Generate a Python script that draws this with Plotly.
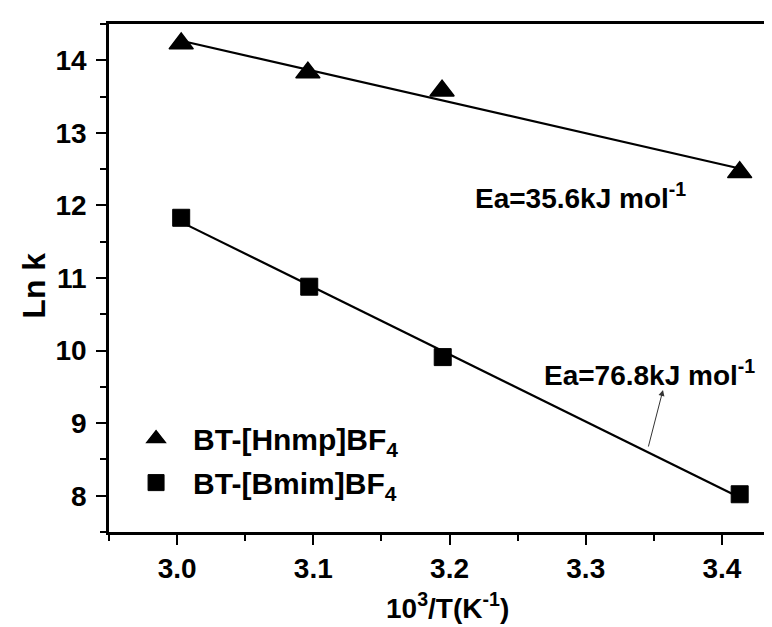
import numpy as np
import plotly.graph_objects as go

# ---- data ----
x_hnmp = [3.003, 3.096, 3.1945, 3.413]
y_hnmp = [14.23, 13.83, 13.58, 12.456]
x_bmim = [3.003, 3.097, 3.195, 3.413]
y_bmim = [11.83, 10.88, 9.91, 8.02]

name_hnmp = "BT-[Hnmp]BF<sub>4</sub>"
name_bmim = "BT-[Bmim]BF<sub>4</sub>"
label_hnmp = "Ea=35.6kJ mol<sup>-1</sup>"
label_bmim = "Ea=76.8kJ mol<sup>-1</sup>"

x_ticks = [3.0, 3.1, 3.2, 3.3, 3.4]
x_ticklabels = ["3.0", "3.1", "3.2", "3.3", "3.4"]
y_ticks = [8, 9, 10, 11, 12, 13, 14]

FONT = "Liberation Sans, Arial, sans-serif"

def fit_line(xs, ys):
    k, b = np.polyfit(xs, ys, 1)
    xx = np.array([min(xs), max(xs)])
    return xx, k * xx + b

fig = go.Figure()

fx, fy = fit_line(x_hnmp, y_hnmp)
fig.add_trace(go.Scatter(x=fx, y=fy, mode="lines", line=dict(color="black", width=2.2),
                         showlegend=False, hoverinfo="skip"))
fx2, fy2 = fit_line(x_bmim, y_bmim)
fig.add_trace(go.Scatter(x=fx2, y=fy2, mode="lines", line=dict(color="black", width=2.2),
                         showlegend=False, hoverinfo="skip"))

fig.add_trace(go.Scatter(x=x_hnmp, y=y_hnmp, mode="markers", name=name_hnmp,
                         legendgroup="a",
                         marker=dict(symbol="triangle-up", size=21, color="black",
                                     line=dict(color="black", width=1.5))))
fig.add_trace(go.Scatter(x=x_bmim, y=y_bmim, mode="markers", name=name_bmim,
                         legendgroup="b",
                         marker=dict(symbol="square", size=17, color="black",
                                     line=dict(color="black", width=1))))

axis_common = dict(
    showline=True, linecolor="black", linewidth=2.5,
    ticks="outside", ticklen=10, tickwidth=2, tickcolor="black",
    showgrid=False, zeroline=False,
    tickfont=dict(family=FONT, size=28, color="black", weight="bold"),
)

fig.update_xaxes(range=[2.95, 3.4426], tickvals=x_ticks, ticktext=x_ticklabels,
                 mirror=True,
                 minor=dict(dtick=0.05, tick0=2.95, ticks="outside", ticklen=6,
                            tickwidth=2, tickcolor="black", showgrid=False),
                 **axis_common)
fig.update_yaxes(range=[7.5, 14.5], tickvals=y_ticks, mirror=False,
                 ticklabelstandoff=4,
                 minor=dict(dtick=0.5, tick0=7.5, ticks="outside", ticklen=6,
                            tickwidth=2, tickcolor="black", showgrid=False),
                 **axis_common)

ann_font = dict(family=FONT, size=28, color="black", weight="bold")
fig.add_annotation(x=3.217, y=12.13, xref="x", yref="y", text=label_hnmp,
                   showarrow=False, xanchor="left", yanchor="middle", font=ann_font)
fig.add_annotation(x=3.268, y=9.69, xref="x", yref="y", text=label_bmim,
                   showarrow=False, xanchor="left", yanchor="middle", font=ann_font)
# thin arrow pointing from the fit line to the label
fig.add_annotation(x=3.3567, y=9.457, xref="x", yref="y",
                   ax=3.3457, ay=8.657, axref="x", ayref="y",
                   text="", showarrow=True, arrowhead=2, arrowsize=1.2,
                   arrowwidth=1, arrowcolor="#333333", standoff=0, startstandoff=0)

# axis titles
fig.add_annotation(x=-0.111, y=0.484, xref="paper", yref="paper", text="Ln k",
                   textangle=-90, showarrow=False, xanchor="center", yanchor="middle",
                   font=dict(family=FONT, size=32, color="black", weight="bold"))
fig.add_annotation(x=0.505, y=-0.146, xref="paper", yref="paper",
                   text="10<sup>3</sup>/T(K<sup>-1</sup>)",
                   showarrow=False, xanchor="center", yanchor="middle",
                   font=dict(family=FONT, size=28, color="black", weight="bold"))

fig.update_layout(
    width=772, height=627,
    margin=dict(l=101, r=0, t=16, b=103),
    paper_bgcolor="white", plot_bgcolor="white",
    showlegend=True,
    legend=dict(x=0.015, y=0.235, xanchor="left", yanchor="top",
                bgcolor="rgba(0,0,0,0)", borderwidth=0,
                font=dict(family=FONT, size=30, color="black", weight="bold"),
                tracegroupgap=2, itemwidth=64),
)

fig.write_html("out.html")
